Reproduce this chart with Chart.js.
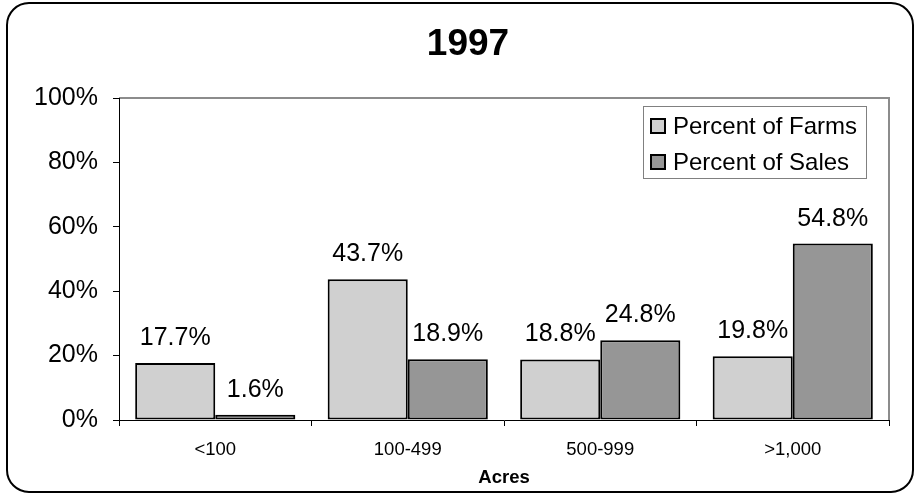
<!DOCTYPE html>
<html>
<head>
<meta charset="utf-8">
<script src="https://cdn.jsdelivr.net/npm/chart.js@4/dist/chart.umd.min.js"></script>
<style>
  html, body { margin: 0; padding: 0; background: #fff; }
  #wrap { position: relative; width: 920px; height: 497px; }
</style>
</head>
<body>
<div id="wrap"><canvas id="c" width="920" height="497"></canvas></div>
<script>
const categories = ['<100', '100-499', '500-999', '>1,000'];
const percentOfFarms = [17.7, 43.7, 18.8, 19.8];
const percentOfSales = [1.6, 18.9, 24.8, 54.8];
const seriesNames = ['Percent of Farms', 'Percent of Sales'];
const chartTitle = '1997';
const xAxisTitle = 'Acres';

const FONT = "'Liberation Sans', Arial, sans-serif";

const frameAndBorder = {
  id: 'frameAndBorder',
  beforeDraw(chart) {
    const ctx = chart.ctx;
    ctx.save();
    ctx.fillStyle = '#fff';
    ctx.fillRect(0, 0, chart.width, chart.height);
    ctx.strokeStyle = '#000';
    ctx.lineWidth = 2;
    ctx.beginPath();
    ctx.roundRect(7, 3, 906, 489, 22);
    ctx.stroke();
    const a = chart.chartArea;
    ctx.strokeStyle = '#8c8c8c';
    ctx.lineWidth = 2;
    ctx.beginPath();
    ctx.moveTo(a.left, a.top);
    ctx.lineTo(a.right, a.top);
    ctx.lineTo(a.right, a.bottom);
    ctx.stroke();
    // chart title
    ctx.fillStyle = '#000';
    ctx.font = 'bold 37px ' + FONT;
    ctx.textAlign = 'center';
    ctx.textBaseline = 'middle';
    ctx.fillText(chartTitle, 468, 45);
    ctx.restore();
  }
};

const valueLabels = {
  id: 'valueLabels',
  afterDatasetsDraw(chart) {
    const ctx = chart.ctx;
    ctx.save();
    ctx.font = '25px ' + FONT;
    ctx.fillStyle = '#000';
    ctx.textAlign = 'center';
    ctx.textBaseline = 'alphabetic';
    chart.data.datasets.forEach((ds, i) => {
      chart.getDatasetMeta(i).data.forEach((bar, j) => {
        ctx.fillText(ds.data[j].toFixed(1) + '%', bar.x, bar.y - 18);
      });
    });
    ctx.restore();
  }
};

const boxLegend = {
  id: 'boxLegend',
  afterDraw(chart) {
    const ctx = chart.ctx;
    const a = chart.chartArea;
    const w = 223, h = 72;
    const left = a.right - 23 - w;
    const top = a.top + 8;
    ctx.save();
    ctx.fillStyle = '#fff';
    ctx.fillRect(left, top, w, h);
    ctx.strokeStyle = '#808080';
    ctx.lineWidth = 1;
    ctx.strokeRect(left + 0.5, top + 0.5, w, h);
    ctx.font = '24px ' + FONT;
    ctx.textAlign = 'left';
    ctx.textBaseline = 'middle';
    chart.data.datasets.forEach((ds, i) => {
      const cy = top + 20 + i * 36;
      ctx.fillStyle = ds.backgroundColor;
      ctx.fillRect(left + 8, cy - 7, 14, 14);
      ctx.strokeStyle = '#000';
      ctx.lineWidth = 2;
      ctx.strokeRect(left + 8, cy - 7, 14, 14);
      ctx.fillStyle = '#000';
      ctx.fillText(ds.label, left + 30, cy + 1);
    });
    ctx.restore();
  }
};

new Chart(document.getElementById('c'), {
  type: 'bar',
  data: {
    labels: categories,
    datasets: [
      { label: seriesNames[0], data: percentOfFarms, backgroundColor: '#d0d0d0',
        borderColor: '#000', borderWidth: 2, borderSkipped: false },
      { label: seriesNames[1], data: percentOfSales, backgroundColor: '#969696',
        borderColor: '#000', borderWidth: 2, borderSkipped: false }
    ]
  },
  options: {
    responsive: false,
    animation: false,
    devicePixelRatio: 1,
    layout: { padding: { top: 98, left: 0, right: 31, bottom: 0 } },
    datasets: { bar: { categoryPercentage: 0.832, barPercentage: 1.0 } },
    plugins: {
      legend: { display: false },
      tooltip: { enabled: false },
      title: { display: false }
    },
    scales: {
      x: {
        grid: { display: true, drawOnChartArea: false, drawTicks: true, tickLength: 6, color: '#000', offset: true },
        border: { display: true, color: '#000', width: 1 },
        ticks: { color: '#000', font: { family: FONT, size: 18.5 }, padding: 13, maxRotation: 0 },
        title: { display: true, text: xAxisTitle, color: '#000',
                 font: { family: FONT, size: 18.5, weight: 'bold', lineHeight: 1.2 },
                 padding: { top: 0, bottom: 8 } },
        afterFit(s) { s.height = 77; }
      },
      y: {
        min: 0, max: 100,
        grid: { display: true, drawOnChartArea: false, drawTicks: true, tickLength: 6, color: '#000' },
        border: { display: true, color: '#000', width: 1 },
        ticks: { stepSize: 20, color: '#000', font: { family: FONT, size: 25 }, padding: 15,
                 callback: v => v + '%' },
        afterFit(s) { s.width = 119; }
      }
    }
  },
  plugins: [frameAndBorder, valueLabels, boxLegend]
});
</script>
</body>
</html>
